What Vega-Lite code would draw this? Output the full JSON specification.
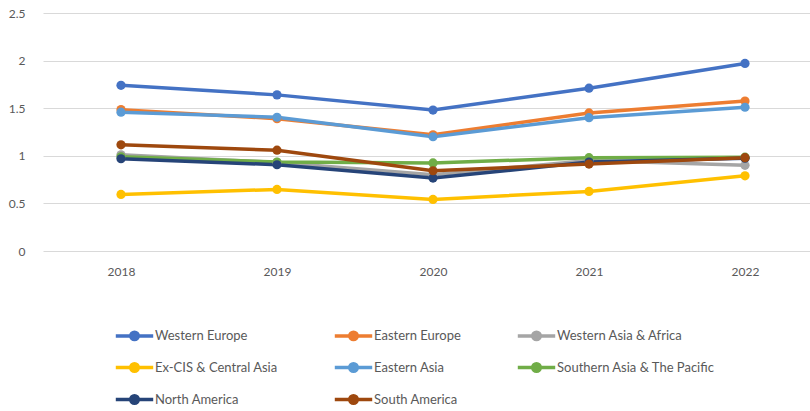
{
  "$schema": "https://vega.github.io/schema/vega-lite/v6.json",
  "width": 767,
  "height": 238,
  "autosize": {"type": "none"},
  "padding": {"left": 43, "top": 13, "right": 0, "bottom": 160},
  "background": "white",
  "config": {
    "view": {"stroke": null},
    "font": "Lato",
    "axis": {"labelFont": "Lato", "labelFontSize": 12, "labelColor": "#595959", "ticks": false, "domain": false, "title": null}
  },
  "data": {
    "values": [
      {"year": 2018, "region": "Western Europe", "value": 1.74},
      {"year": 2019, "region": "Western Europe", "value": 1.64},
      {"year": 2020, "region": "Western Europe", "value": 1.48},
      {"year": 2021, "region": "Western Europe", "value": 1.71},
      {"year": 2022, "region": "Western Europe", "value": 1.97},
      {"year": 2018, "region": "Eastern Europe", "value": 1.485},
      {"year": 2019, "region": "Eastern Europe", "value": 1.39},
      {"year": 2020, "region": "Eastern Europe", "value": 1.22},
      {"year": 2021, "region": "Eastern Europe", "value": 1.45},
      {"year": 2022, "region": "Eastern Europe", "value": 1.575},
      {"year": 2018, "region": "Western Asia & Africa", "value": 1.01},
      {"year": 2019, "region": "Western Asia & Africa", "value": 0.93},
      {"year": 2020, "region": "Western Asia & Africa", "value": 0.8},
      {"year": 2021, "region": "Western Asia & Africa", "value": 0.95},
      {"year": 2022, "region": "Western Asia & Africa", "value": 0.9},
      {"year": 2018, "region": "Ex-CIS & Central Asia", "value": 0.594},
      {"year": 2019, "region": "Ex-CIS & Central Asia", "value": 0.647},
      {"year": 2020, "region": "Ex-CIS & Central Asia", "value": 0.542},
      {"year": 2021, "region": "Ex-CIS & Central Asia", "value": 0.626},
      {"year": 2022, "region": "Ex-CIS & Central Asia", "value": 0.79},
      {"year": 2018, "region": "Eastern Asia", "value": 1.458},
      {"year": 2019, "region": "Eastern Asia", "value": 1.405},
      {"year": 2020, "region": "Eastern Asia", "value": 1.2},
      {"year": 2021, "region": "Eastern Asia", "value": 1.4},
      {"year": 2022, "region": "Eastern Asia", "value": 1.51},
      {"year": 2018, "region": "Southern Asia & The Pacific", "value": 0.99},
      {"year": 2019, "region": "Southern Asia & The Pacific", "value": 0.934},
      {"year": 2020, "region": "Southern Asia & The Pacific", "value": 0.925},
      {"year": 2021, "region": "Southern Asia & The Pacific", "value": 0.98},
      {"year": 2022, "region": "Southern Asia & The Pacific", "value": 0.985},
      {"year": 2018, "region": "North America", "value": 0.969},
      {"year": 2019, "region": "North America", "value": 0.906},
      {"year": 2020, "region": "North America", "value": 0.766},
      {"year": 2021, "region": "North America", "value": 0.934},
      {"year": 2022, "region": "North America", "value": 0.975},
      {"year": 2018, "region": "South America", "value": 1.115},
      {"year": 2019, "region": "South America", "value": 1.059},
      {"year": 2020, "region": "South America", "value": 0.843},
      {"year": 2021, "region": "South America", "value": 0.913},
      {"year": 2022, "region": "South America", "value": 0.98}
    ]
  },
  "mark": {"type": "line", "strokeWidth": 3.5, "point": {"filled": true, "size": 85, "opacity": 1}},
  "encoding": {
    "x": {
      "field": "year", "type": "quantitative",
      "scale": {"domain": [2017.5, 2022.4167], "nice": false, "zero": false},
      "axis": {"values": [2018, 2019, 2020, 2021, 2022], "format": "d", "labelPadding": 15, "grid": false}
    },
    "y": {
      "field": "value", "type": "quantitative",
      "scale": {"domain": [0, 2.5]},
      "axis": {"values": [0, 0.5, 1, 1.5, 2, 2.5], "format": ".1~f", "labelPadding": 18, "grid": true, "gridColor": "#D9D9D9", "gridWidth": 1}
    },
    "color": {
      "field": "region", "type": "nominal",
      "sort": ["Western Europe", "Eastern Europe", "Western Asia & Africa", "Ex-CIS & Central Asia", "Eastern Asia", "Southern Asia & The Pacific", "North America", "South America"],
      "scale": {
        "domain": ["Western Europe", "Eastern Europe", "Western Asia & Africa", "Ex-CIS & Central Asia", "Eastern Asia", "Southern Asia & The Pacific", "North America", "South America"],
        "range": ["#4472C4", "#ED7D31", "#A5A5A5", "#FFC000", "#5B9BD5", "#70AD47", "#264478", "#9E480E"]
      },
      "legend": {
        "title": null,
        "orient": "none",
        "legendX": 71,
        "legendY": 302,
        "direction": "horizontal",
        "columns": 3,
        "padding": 0,
        "columnPadding": 49,
        "rowPadding": -1,
        "symbolType": "M-1,0L1,0M-0.2,0A0.2,0.2 0 1,1 0.2,0A0.2,0.2 0 1,1 -0.2,0Z",
        "symbolSize": 1400,
        "symbolStrokeWidth": 3.5,
        "labelFont": "Lato",
        "labelFontSize": 13,
        "labelColor": "#595959",
        "labelOffset": 0,
        "labelLimit": 300
      }
    },
    "order": {"field": "year"}
  }
}
